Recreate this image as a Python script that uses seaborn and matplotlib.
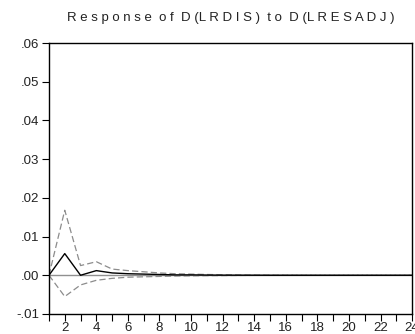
import matplotlib
matplotlib.use("Agg")
import matplotlib.pyplot as plt
import seaborn as sns
import numpy as np
import pandas as pd

periods = list(range(1, 25))
response = [0.0, 0.0056, 0.0000, 0.0012, 0.0006, 0.0004, 0.0003, 0.0002, 0.0001, 0.0001,
            0.00005, 0.00003, 0.00002, 0.00001, 0.0, 0.0, 0.0, 0.0, 0.0, 0.0, 0.0, 0.0, 0.0, 0.0]
upper = [0.0, 0.0168, 0.0025, 0.0035, 0.0016, 0.0012, 0.0009, 0.0006, 0.0004, 0.0003,
         0.0002, 0.00015, 0.0001, 0.00007, 0.00005, 0.00003, 0.00002, 0.00001, 0.0, 0.0, 0.0, 0.0, 0.0, 0.0]
lower = [0.0, -0.0055, -0.0025, -0.0013, -0.0008, -0.0005, -0.0004, -0.0003, -0.0002, -0.00015,
         -0.0001, -0.00008, -0.00005, -0.00003, -0.00002, -0.00001, 0.0, 0.0, 0.0, 0.0, 0.0, 0.0, 0.0, 0.0]
yticks = [-0.01, 0.0, 0.01, 0.02, 0.03, 0.04, 0.05, 0.06]
ytick_labels = ["-.01", ".00", ".01", ".02", ".03", ".04", ".05", ".06"]
xticks = list(range(2, 25, 2))
title = "R e s p o n s e  o f  D (L R D I S )  t o  D (L R E S A D J )"

sns.set_style("white")
plt.rcParams['font.family'] = ['Liberation Sans', 'DejaVu Sans']

df = pd.DataFrame({"period": periods, "response": response, "upper": upper, "lower": lower})

fig = plt.figure(figsize=(4.15, 3.34), dpi=100)
ax = fig.add_axes([0.118, 0.060, 0.875, 0.811])

ax.axhline(0, color="#909090", lw=1.0, zorder=1)
sns.lineplot(data=df, x="period", y="upper", ax=ax, color="#8c8c8c", lw=0.9, linestyle=(0, (5, 2.5)))
sns.lineplot(data=df, x="period", y="lower", ax=ax, color="#8c8c8c", lw=0.9, linestyle=(0, (5, 2.5)))
sns.lineplot(data=df, x="period", y="response", ax=ax, color="black", lw=1.0)

ax.set_xlim(1, 24)
ax.set_ylim(-0.01, 0.06)
ax.set_yticks(yticks)
ax.set_yticklabels(ytick_labels)
ax.set_xticks(xticks)
ax.set_xticks(periods, minor=True)
ax.set_xlabel("")
ax.set_ylabel("")
for s in ax.spines.values():
    s.set_color("black")
    s.set_linewidth(1.0)
ax.tick_params(axis="both", which="both", direction="out", color="black", labelsize=9.5, labelcolor="#222222")
ax.tick_params(axis="y", length=5, width=0.8, pad=2)
ax.tick_params(axis="x", which="both", length=5, width=0.8, pad=1)
ax.tick_params(axis="both", which="both", bottom=True, left=True)

fig.text(0.555, 0.946, title, ha="center", va="center", fontsize=9.5, color="#222222")

fig.savefig("out.png", dpi=100)
